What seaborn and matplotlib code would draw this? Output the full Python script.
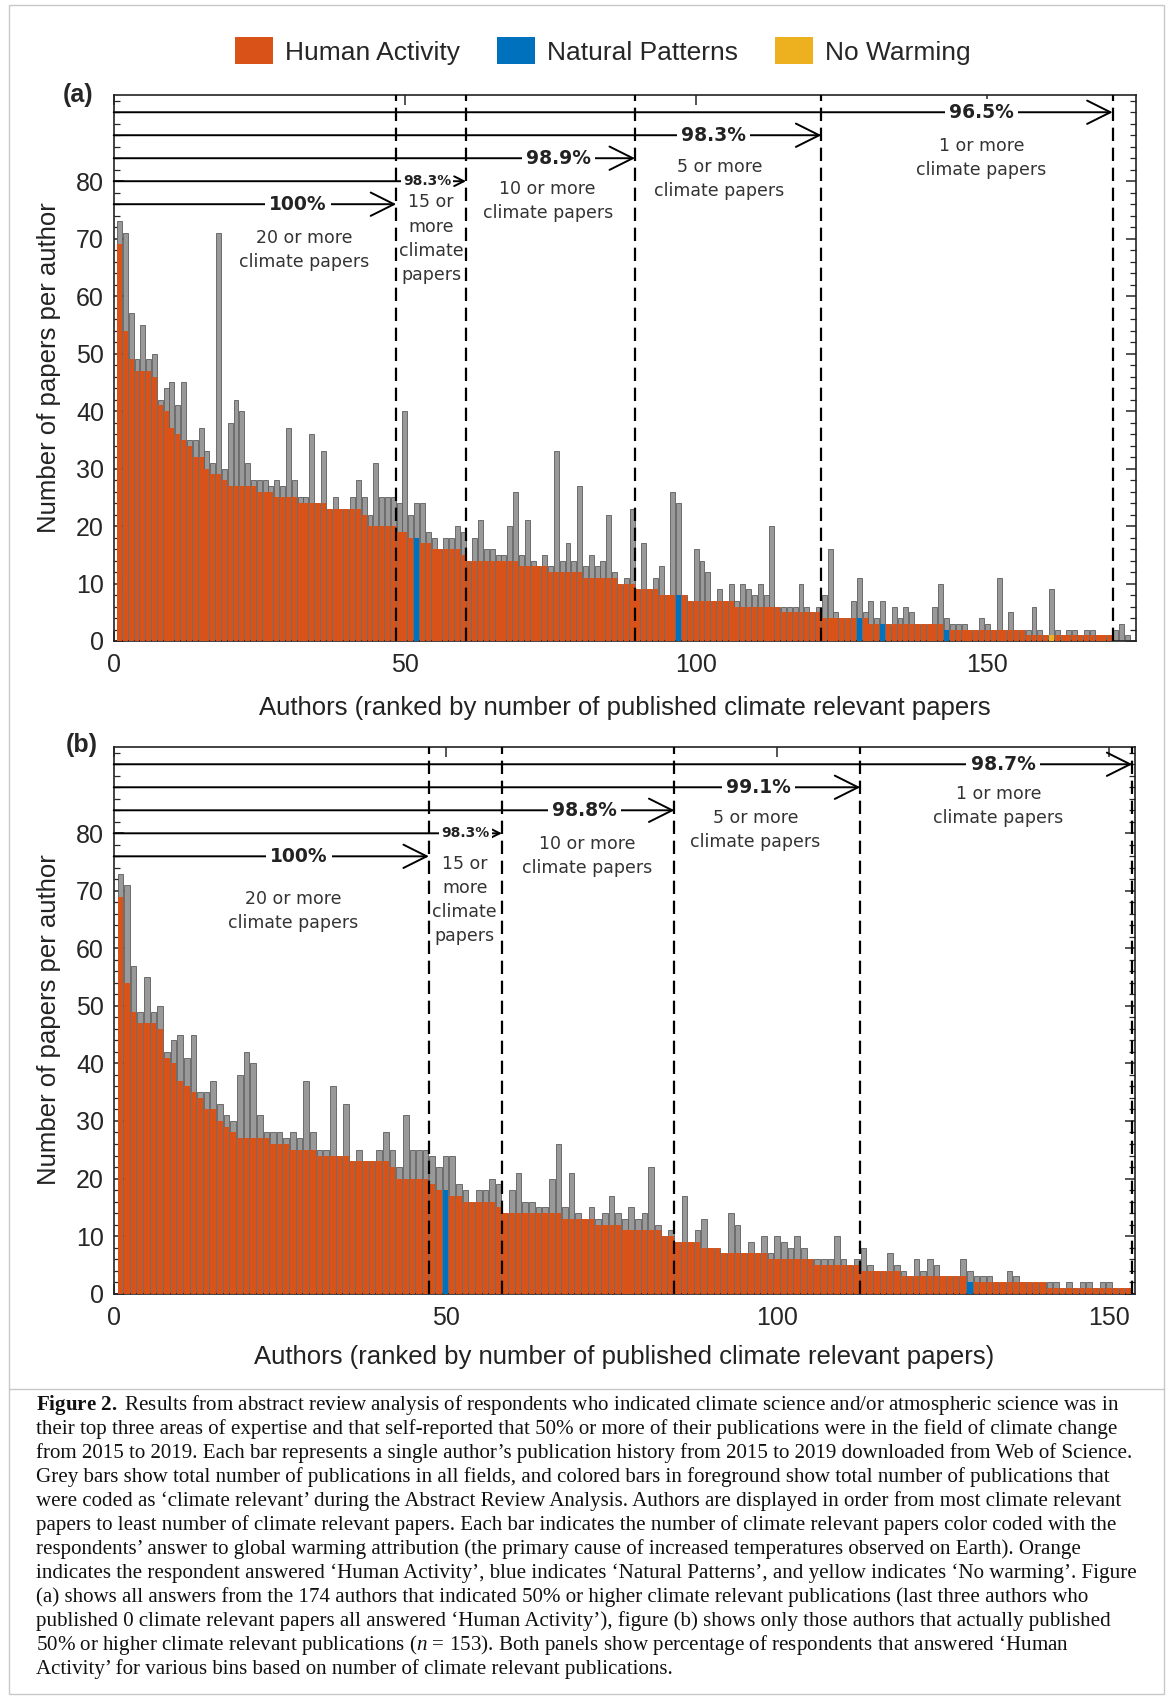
import numpy as np
import pandas as pd
import matplotlib
matplotlib.use("Agg")
import matplotlib.pyplot as plt
from matplotlib.patches import Patch, Rectangle
from matplotlib.lines import Line2D
from matplotlib.ticker import MultipleLocator
import seaborn as sns

# Panel (a): all 174 authors, ranked by number of climate relevant papers
climate_a = [69, 54, 49, 47, 47, 47, 46, 41, 40, 37,
             36, 35, 34, 32, 32, 30, 29, 29, 28, 27,
             27, 27, 27, 27, 26, 26, 26, 25, 25, 25,
             25, 24, 24, 24, 24, 24, 23, 23, 23, 23,
             23, 23, 22, 20, 20, 20, 20, 20, 19, 19,
             18, 18, 17, 17, 16, 16, 16, 16, 16, 15,
             14, 14, 14, 14, 14, 14, 14, 14, 14, 13,
             13, 13, 13, 13, 12, 12, 12, 12, 12, 12,
             11, 11, 11, 11, 11, 11, 10, 10, 10, 9,
             9, 9, 9, 8, 8, 8, 8, 8, 7, 7,
             7, 7, 7, 7, 7, 7, 6, 6, 6, 6,
             6, 6, 6, 6, 5, 5, 5, 5, 5, 5,
             5, 4, 4, 4, 4, 4, 4, 4, 4, 3,
             3, 3, 3, 3, 3, 3, 3, 3, 3, 3,
             3, 3, 2, 2, 2, 2, 2, 2, 2, 2,
             2, 2, 2, 2, 2, 2, 1, 1, 1, 1,
             1, 1, 1, 1, 1, 1, 1, 1, 1, 1,
             1, 0, 0, 0]
total_a = [73, 71, 57, 49, 55, 49, 50, 42, 44, 45,
           41, 45, 35, 35, 37, 33, 31, 71, 30, 38,
           42, 40, 31, 28, 28, 28, 27, 28, 27, 37,
           28, 25, 25, 36, 24, 33, 23, 25, 23, 23,
           25, 28, 25, 22, 31, 25, 25, 25, 24, 40,
           22, 24, 24, 19, 18, 16, 18, 18, 20, 19,
           14, 18, 21, 16, 16, 15, 15, 20, 26, 15,
           21, 14, 13, 15, 13, 33, 14, 17, 14, 27,
           13, 15, 13, 14, 22, 12, 10, 11, 23, 9,
           17, 9, 11, 13, 8, 26, 24, 8, 7, 16,
           14, 12, 7, 9, 7, 10, 7, 10, 9, 8,
           10, 8, 20, 6, 6, 6, 6, 10, 6, 5,
           6, 8, 16, 5, 4, 4, 7, 11, 5, 7,
           4, 7, 3, 6, 4, 6, 5, 3, 3, 3,
           6, 10, 4, 3, 3, 3, 2, 2, 4, 3,
           2, 11, 2, 5, 2, 2, 2, 6, 2, 1,
           9, 2, 1, 2, 2, 1, 2, 2, 1, 1,
           1, 2, 3, 1]
natural_a = [52, 97, 128, 132, 143]
nowarming_a = [161]

# Panel (b): the 153 authors with 50% or more climate relevant papers
climate_b = [69, 54, 49, 47, 47, 47, 46, 41, 40, 37,
             36, 35, 34, 32, 32, 30, 29, 28, 27, 27,
             27, 27, 27, 26, 26, 26, 25, 25, 25, 25,
             24, 24, 24, 24, 24, 23, 23, 23, 23, 23,
             23, 22, 20, 20, 20, 20, 20, 19, 18, 18,
             17, 17, 16, 16, 16, 16, 16, 15, 14, 14,
             14, 14, 14, 14, 14, 14, 14, 13, 13, 13,
             13, 13, 12, 12, 12, 12, 11, 11, 11, 11,
             11, 11, 10, 10, 9, 9, 9, 9, 8, 8,
             8, 7, 7, 7, 7, 7, 7, 7, 6, 6,
             6, 6, 6, 6, 6, 5, 5, 5, 5, 5,
             5, 5, 4, 4, 4, 4, 4, 4, 3, 3,
             3, 3, 3, 3, 3, 3, 3, 3, 2, 2,
             2, 2, 2, 2, 2, 2, 2, 2, 2, 2,
             1, 1, 1, 1, 1, 1, 1, 1, 1, 1,
             1, 1, 1]
total_b = [73, 71, 57, 49, 55, 49, 50, 42, 44, 45,
           41, 45, 35, 35, 37, 33, 31, 30, 38, 42,
           40, 31, 28, 28, 28, 27, 28, 27, 37, 28,
           25, 25, 36, 24, 33, 23, 25, 23, 23, 25,
           28, 25, 22, 31, 25, 25, 25, 24, 22, 24,
           24, 19, 18, 16, 18, 18, 20, 19, 14, 18,
           21, 16, 16, 15, 15, 20, 26, 15, 21, 14,
           13, 15, 13, 14, 17, 14, 13, 15, 13, 14,
           22, 12, 10, 11, 9, 17, 9, 11, 13, 8,
           8, 7, 14, 12, 7, 9, 7, 10, 7, 10,
           9, 8, 10, 8, 6, 6, 6, 6, 10, 6,
           5, 6, 8, 5, 4, 4, 7, 5, 4, 3,
           6, 4, 6, 5, 3, 3, 3, 6, 4, 3,
           3, 3, 2, 2, 4, 3, 2, 2, 2, 2,
           2, 2, 1, 2, 1, 2, 2, 1, 2, 2,
           1, 1, 1]
natural_b = [50, 129]
nowarming_b = []

thresholds = [20, 15, 10, 5, 1]
bin_labels = ["20 or more\nclimate papers", "15 or\nmore\nclimate\npapers",
              "10 or more\nclimate papers", "5 or more\nclimate papers",
              "1 or more\nclimate papers"]
answers = ["Human Activity", "Natural Patterns", "No Warming"]
palette = {"Human Activity": "#D95319", "Natural Patterns": "#0072BD", "No Warming": "#EDB120"}

caption = [
    "$\\mathbf{Figure\\ 2.}$ Results from abstract review analysis of respondents who indicated climate science and/or atmospheric science was in",
    "their top three areas of expertise and that self-reported that 50% or more of their publications were in the field of climate change",
    "from 2015 to 2019. Each bar represents a single author\u2019s publication history from 2015 to 2019 downloaded from Web of Science.",
    "Grey bars show total number of publications in all fields, and colored bars in foreground show total number of publications that",
    "were coded as \u2018climate relevant\u2019 during the Abstract Review Analysis. Authors are displayed in order from most climate relevant",
    "papers to least number of climate relevant papers. Each bar indicates the number of climate relevant papers color coded with the",
    "respondents\u2019 answer to global warming attribution (the primary cause of increased temperatures observed on Earth). Orange",
    "indicates the respondent answered \u2018Human Activity\u2019, blue indicates \u2018Natural Patterns\u2019, and yellow indicates \u2018No warming\u2019. Figure",
    "(a) shows all answers from the 174 authors that indicated 50% or higher climate relevant publications (last three authors who",
    "published 0 climate relevant papers all answered \u2018Human Activity\u2019), figure (b) shows only those authors that actually published",
    "50% or higher climate relevant publications ($n$ = 153). Both panels show percentage of respondents that answered \u2018Human",
    "Activity\u2019 for various bins based on number of climate relevant publications.",
]

sns.set_style("ticks")
plt.rcParams["font.family"] = ["Liberation Sans", "DejaVu Sans"]
plt.rcParams["mathtext.fontset"] = "custom"
plt.rcParams["mathtext.rm"] = "Liberation Serif"
plt.rcParams["mathtext.it"] = "Liberation Serif:italic"
plt.rcParams["mathtext.bf"] = "Liberation Serif:bold"


def make_df(climate, total, natural, nowarm):
    df = pd.DataFrame({"rank": np.arange(1, len(climate) + 1),
                       "climate": climate, "total": total})
    df["answer"] = "Human Activity"
    df.loc[df["rank"].isin(natural), "answer"] = "Natural Patterns"
    df.loc[df["rank"].isin(nowarm), "answer"] = "No Warming"
    return df


def draw_panel(ax, df, xmax, pct_x, sub_xy):
    sns.barplot(data=df, x="rank", y="total", native_scale=True, color="#999999",
                edgecolor="#5c5c5c", linewidth=0.6, width=0.85, saturation=1,
                errorbar=None, ax=ax, zorder=2)
    sns.barplot(data=df, x="rank", y="climate", hue="answer", hue_order=answers,
                palette=palette, native_scale=True, dodge=False, width=0.85,
                saturation=1, errorbar=None, legend=False, linewidth=0, ax=ax, zorder=3)

    clim = df["climate"].to_numpy()
    human = (df["answer"] == "Human Activity").to_numpy()
    levels = [76, 80, 84, 88, 92]
    for i, thr in enumerate(thresholds):
        sel = clim >= thr
        edge = sel.sum() + 0.5
        pct = 100 * human[sel].sum() / sel.sum()
        txt = "100%" if round(pct, 1) == 100 else f"{pct:.1f}%"
        ax.axvline(edge, color="k", lw=1.6, ls=(0, (6, 3)), zorder=4)
        small = (i == 1)
        ax.annotate("", xy=(edge, levels[i]), xytext=(0, levels[i]),
                    arrowprops=dict(arrowstyle="->,head_length=0.7,head_width=0.35",
                                    lw=1.4, color="k", shrinkA=0, shrinkB=0,
                                    mutation_scale=10 if small else 24),
                    zorder=5)
        ax.text(pct_x[i], levels[i], txt, ha="center", va="center",
                fontsize=10 if small else 13.5, fontweight="bold",
                family="DejaVu Sans", color="#222222", zorder=6,
                bbox=dict(facecolor="white", edgecolor="none", pad=1.5 if small else 3))
        ax.text(sub_xy[i][0], sub_xy[i][1], bin_labels[i], ha="center", va="center",
                fontsize=12.5, family="DejaVu Sans", color="#333333",
                linespacing=1.45, zorder=6)

    ax.set_xlim(0, xmax)
    ax.set_ylim(0, 95)
    ax.set_xticks([0, 50, 100, 150])
    ax.set_yticks(range(0, 81, 10))
    ax.yaxis.set_minor_locator(MultipleLocator(2))
    ax.tick_params(which="both", direction="in", top=True, right=True, labelsize=18)
    ax.tick_params(axis="x", which="major", length=7, width=1.1, pad=9)
    ax.tick_params(axis="y", which="major", length=7, width=1.1, pad=7)
    ax.tick_params(which="minor", length=4, width=0.9)
    ax.set_xlabel("")
    ax.set_ylabel("")
    for s in ax.spines.values():
        s.set_linewidth(1.2)
        s.set_color("#222222")


df_a = make_df(climate_a, total_a, natural_a, nowarming_a)
df_b = make_df(climate_b, total_b, natural_b, nowarming_b)

W, H = 1168, 1698
fig = plt.figure(figsize=(W / 100, H / 100), dpi=100)

ax_a = fig.add_axes([113.7 / W, 1 - 641 / H, 1022.8 / W, 546 / H])
draw_panel(ax_a, df_a, 175.6,
           [31.6, 53.8, 76.4, 103, 149],
           [(32.7, 68), (54.5, 70), (74.5, 76.6), (104, 80.4), (149, 84)])

ax_b = fig.add_axes([113.7 / W, 1 - 1293.6 / H, 1021.3 / W, 546.6 / H])
draw_panel(ax_b, df_b, 153.9,
           [27.9, 53.0, 71, 97.2, 134],
           [(27, 66.5), (52.9, 68.4), (71.3, 76), (96.7, 80.6), (133.3, 84.7)])

# axis labels and panel tags
fig.text(625 / W, 1 - 708 / H, "Authors (ranked by number of published climate relevant papers",
         ha="center", va="center", fontsize=18.5, color="#222222")
fig.text(624.4 / W, 1 - 1357 / H, "Authors (ranked by number of published climate relevant papers)",
         ha="center", va="center", fontsize=18.5, color="#222222")
for yc in [368, 1020]:
    fig.text(49 / W, 1 - yc / H, "Number of papers per author", rotation=90,
             ha="center", va="center", fontsize=18.5, color="#222222")
fig.text(78 / W, 1 - 95 / H, "(a)", ha="center", va="center", fontsize=18, fontweight="bold")
fig.text(82 / W, 1 - 745 / H, "(b)", ha="center", va="center", fontsize=18, fontweight="bold")

# legend
handles = [Patch(facecolor=palette[a], edgecolor="none") for a in answers]
fig.legend(handles, answers, loc="center", bbox_to_anchor=(603 / W, 1 - 51 / H), ncol=3,
           frameon=False, fontsize=19, handlelength=1.45, handleheight=1.2,
           handletextpad=0.45, columnspacing=1.4)

# caption
for i, line in enumerate(caption):
    fig.text(36 / W, 1 - (1405 + 24 * i) / H, line, ha="left", va="center",
             fontsize=15.1, family="Liberation Serif", color="#111111")

# frame and separator
fig.add_artist(Rectangle((9 / W, 4 / H), 1155 / W, 1689 / H, transform=fig.transFigure,
                         fill=False, edgecolor="#c8c8c8", lw=1))
fig.add_artist(Line2D([9 / W, 1164 / W], [1 - 1389 / H, 1 - 1389 / H],
                      transform=fig.transFigure, color="#c8c8c8", lw=1))

fig.savefig("out.png", dpi=100)
